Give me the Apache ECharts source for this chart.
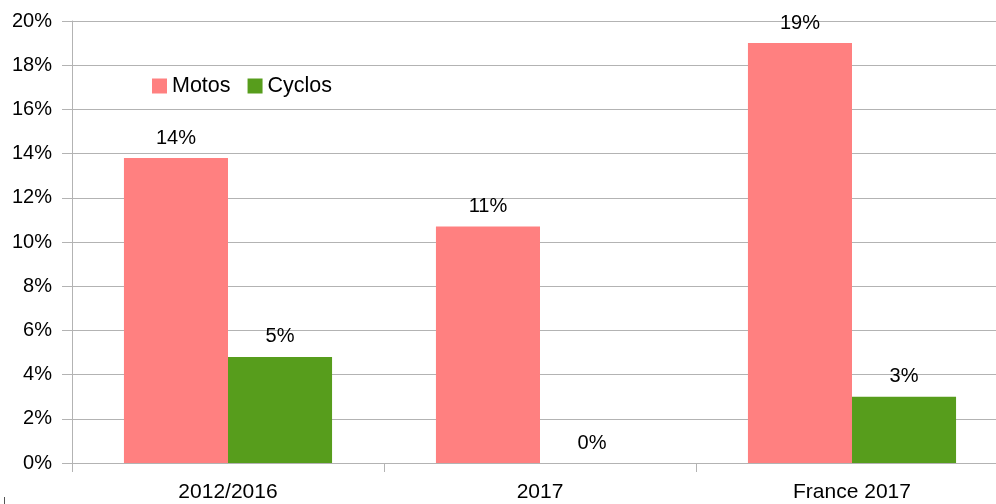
<!DOCTYPE html>
<html>
<head>
<meta charset="utf-8">
<script src="https://cdn.jsdelivr.net/npm/echarts@6/dist/echarts.min.js"></script>
<style>
  html, body { margin: 0; padding: 0; background: #fff; overflow: hidden; }
  #wrap { width: 996px; height: 504px; overflow: hidden; }
  /* le graphique déborde à droite de la fenêtre, comme l'original */
  #chart { width: 1008px; height: 504px; }
</style>
</head>
<body>
<div id="wrap"><div id="chart"></div></div>
<script>
// données (en %)
const categories = ['2012/2016', '2017', 'France 2017'];
const motos = [13.8, 10.7, 19.0];
const cyclos = [4.8, 0, 3.0];
const yTicks = [0, 2, 4, 6, 8, 10, 12, 14, 16, 18, 20];

const font = 'Liberation Sans, Arial, sans-serif';
const gridColor = '#b3b3b3';

const chart = echarts.init(document.getElementById('chart'));

const labelOpt = {
  show: true,
  position: 'top',
  distance: 10,
  fontFamily: font,
  fontSize: 20,
  color: '#000',
  formatter: p => Math.round(p.value) + '%'
};

chart.setOption({
  animation: false,
  textStyle: { fontFamily: font },
  grid: { left: 72, top: 21, bottom: 41, right: 0 },
  legend: {
    left: 152, top: 75, padding: 0,
    itemWidth: 15, itemHeight: 15, itemGap: 17,
    icon: 'rect',
    textStyle: { fontFamily: font, fontSize: 21.5, color: '#000' },
    data: ['Motos', 'Cyclos']
  },
  xAxis: {
    type: 'category',
    data: categories,
    axisLine: { show: true, lineStyle: { color: gridColor } },
    axisTick: { show: true, length: 9, lineStyle: { color: gridColor } },
    axisLabel: { fontFamily: font, fontSize: 21, color: '#000', margin: 19 }
  },
  yAxis: {
    type: 'value',
    min: yTicks[0],
    max: yTicks[yTicks.length - 1],
    interval: 2,
    axisLine: { show: true, lineStyle: { color: gridColor } },
    axisTick: { show: true, length: 10, lineStyle: { color: gridColor } },
    splitLine: { lineStyle: { color: gridColor } },
    axisLabel: { fontFamily: font, fontSize: 20, color: '#000', margin: 20, formatter: '{value}%' }
  },
  graphic: [{
    type: 'line',
    shape: { x1: 4.5, y1: 497, x2: 4.5, y2: 504 },
    style: { stroke: '#555', lineWidth: 1 }
  }],
  series: [
    {
      name: 'Motos', type: 'bar', data: motos,
      itemStyle: { color: '#ff8080' },
      barGap: '0%', barCategoryGap: '33.3%',
      label: labelOpt
    },
    {
      name: 'Cyclos', type: 'bar', data: cyclos,
      itemStyle: { color: '#579d1c' },
      barGap: '0%', barCategoryGap: '33.3%',
      label: labelOpt
    }
  ]
});
</script>
</body>
</html>
